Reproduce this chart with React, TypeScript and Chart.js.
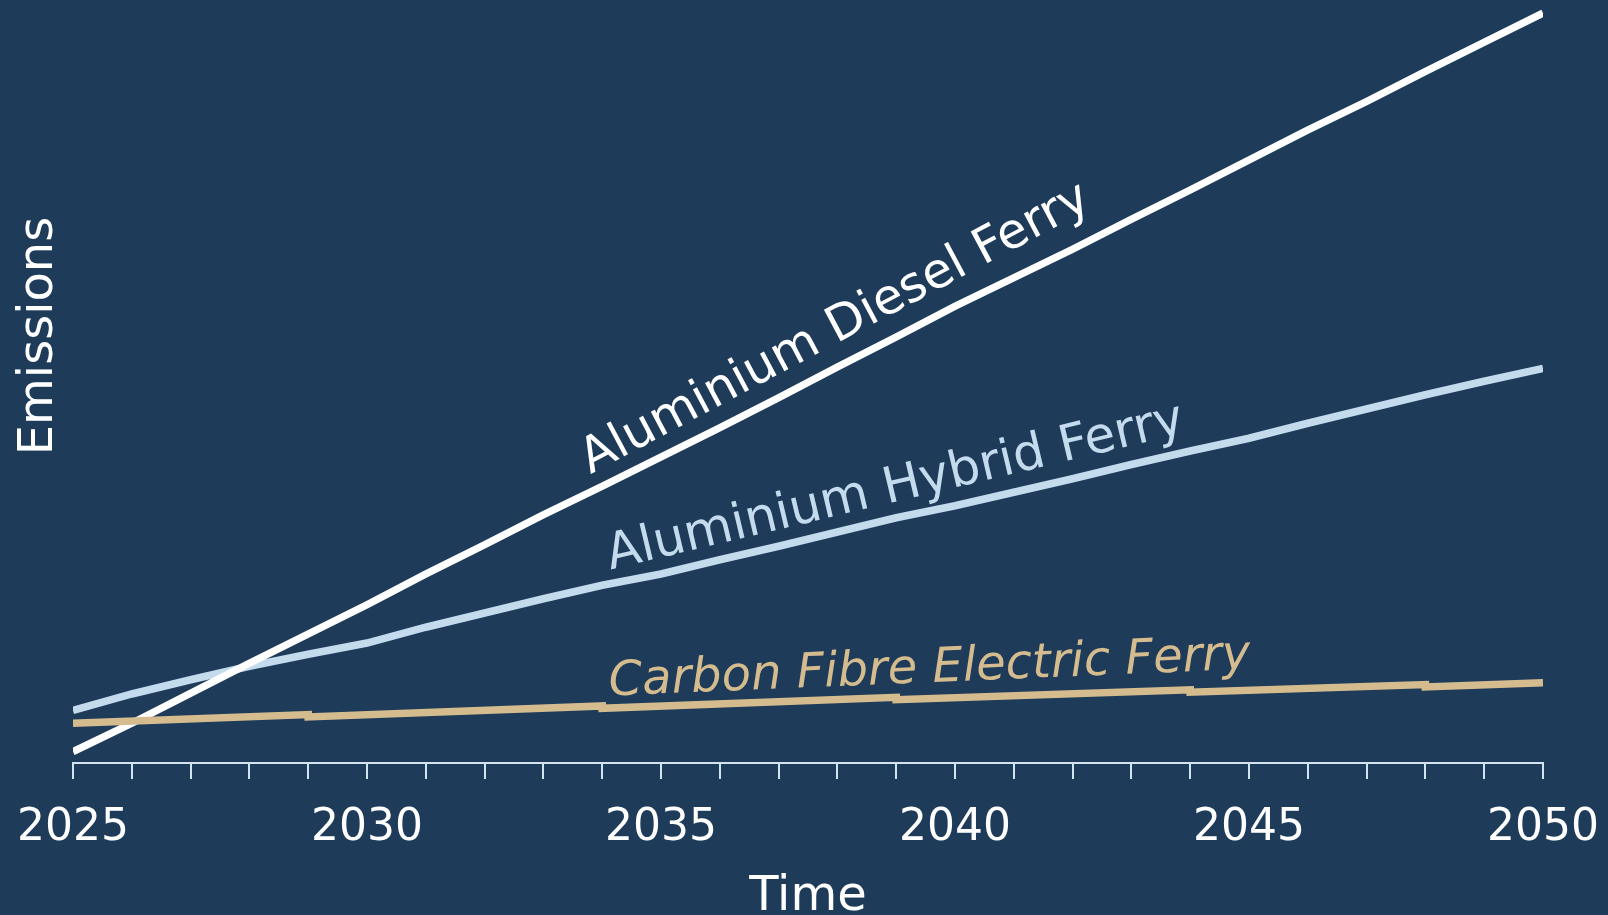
import React, { useEffect, useRef } from "react";
import { Chart, registerables } from "chart.js";

Chart.register(...registerables);

// ---- Data ----
const YEARS = [
  2025, 2026, 2027, 2028, 2029, 2030, 2031, 2032, 2033, 2034, 2035, 2036, 2037,
  2038, 2039, 2040, 2041, 2042, 2043, 2044, 2045, 2046, 2047, 2048, 2049, 2050,
];
const DIESEL = [
  1.5, 5.3, 9.3, 13.3, 17.2, 21.1, 25.2, 29.1, 33.1, 36.9, 40.8, 44.7, 48.7,
  52.8, 56.8, 60.9, 64.7, 68.5, 72.5, 76.4, 80.4, 84.4, 88.2, 92.2, 96.1, 100,
];
const HYBRID = [
  7.0, 9.2, 11.1, 12.9, 14.5, 16.0, 18.1, 20.0, 21.9, 23.7, 25.2, 27.1, 28.9,
  30.8, 32.7, 34.3, 36.1, 37.9, 39.8, 41.6, 43.3, 45.3, 47.2, 49.1, 50.9, 52.6,
];
const CARBON_YEARS = [2025, 2029, 2029, 2034, 2034, 2039, 2039, 2044, 2044, 2048, 2048, 2050];
const CARBON = [5.3, 6.45, 6.15, 7.6, 7.3, 8.75, 8.45, 9.75, 9.45, 10.45, 10.15, 10.7];

const SERIES_NAMES = ["Carbon Fibre Electric Ferry", "Aluminium Diesel Ferry", "Aluminium Hybrid Ferry"];
const LABELED_TICKS = [2025, 2030, 2035, 2040, 2045, 2050];
const X_TITLE = "Time";
const Y_TITLE = "Emissions";

// ---- Styles ----
const BG = "#1e3b59";
const WHITE = "#ffffff";
const BLUE = "#c4dbee";
const TAN = "#d4bc8f";
const AXIS = "#d3e3f0";
const FONT = "'DejaVu Sans', 'Open Sans', sans-serif";

// target plot area (pixels)
const AREA = { left: 73, right: 1543, top: 13, bottom: 763 };

// label anchors in data units + rotation (deg)
const LABELS = [
  { text: SERIES_NAMES[1], year: 2033.8, value: 38.5, angle: 28, color: WHITE, italic: false, size: 49 },
  { text: SERIES_NAMES[2], year: 2034.14, value: 25.8, angle: 13.4, color: BLUE, italic: false, size: 50 },
  { text: SERIES_NAMES[0], year: 2034.12, value: 9.0, angle: 2.4, color: TAN, italic: true, size: 48 },
];

const annotations = {
  id: "annotations",
  afterDatasetsDraw(chart: any) {
    const { ctx, scales } = chart;
    const xs = scales.x;
    const ys = scales.y;
    const left = xs.getPixelForValue(2025);
    const right = xs.getPixelForValue(2050);
    ctx.save();
    for (const l of LABELS) {
      const px = xs.getPixelForValue(l.year);
      const py = ys.getPixelForValue(l.value);
      ctx.save();
      ctx.translate(px, py);
      ctx.rotate((-l.angle * Math.PI) / 180);
      ctx.font = `${l.italic ? "italic " : ""}${l.size}px ${FONT}`;
      ctx.fillStyle = l.color;
      ctx.textAlign = "left";
      ctx.textBaseline = "alphabetic";
      ctx.fillText(l.text, 0, 0);
      ctx.restore();
    }
    // y title
    ctx.save();
    ctx.translate(left - 21, 336);
    ctx.rotate(-Math.PI / 2);
    ctx.font = `48px ${FONT}`;
    ctx.fillStyle = WHITE;
    ctx.textAlign = "center";
    ctx.textBaseline = "alphabetic";
    ctx.fillText(Y_TITLE, 0, 0);
    ctx.restore();
    // x title
    ctx.font = `48px ${FONT}`;
    ctx.fillStyle = WHITE;
    ctx.textAlign = "center";
    ctx.textBaseline = "alphabetic";
    ctx.fillText(X_TITLE, (left + right) / 2, 910);
    ctx.restore();
  },
};

export default function App() {
  const ref = useRef<HTMLCanvasElement | null>(null);
  useEffect(() => {
    if (!ref.current) return;
    const clip = { left: 0, right: 0, top: 10, bottom: 10 };
    const padding = { left: AREA.left, right: 1608 - AREA.right, top: AREA.top, bottom: 0 };
    const chart = new Chart(ref.current, {
      type: "line",
      data: {
        datasets: [
          {
            label: SERIES_NAMES[0],
            data: CARBON_YEARS.map((x, i) => ({ x, y: CARBON[i] })),
            borderColor: TAN,
            borderWidth: 7.5,
            pointRadius: 0,
            tension: 0,
            clip,
          },
          {
            label: SERIES_NAMES[1],
            data: YEARS.map((x, i) => ({ x, y: DIESEL[i] })),
            borderColor: WHITE,
            borderWidth: 7.5,
            pointRadius: 0,
            tension: 0,
            clip,
          },
          {
            label: SERIES_NAMES[2],
            data: YEARS.map((x, i) => ({ x, y: HYBRID[i] })),
            borderColor: BLUE,
            borderWidth: 7.5,
            pointRadius: 0,
            tension: 0,
            clip,
          },
        ],
      } as any,
      options: {
        animation: false,
        responsive: false,
        maintainAspectRatio: false,
        layout: { padding },
        plugins: { legend: { display: false }, tooltip: { enabled: false } },
        scales: {
          x: {
            type: "linear",
            min: 2025,
            max: 2050,
            afterFit: (scale: any) => {
              scale.height = 915 - AREA.bottom;
              scale.paddingLeft = 0;
              scale.paddingRight = 0;
            },
            ticks: {
              stepSize: 1,
              autoSkip: false,
              maxRotation: 0,
              minRotation: 0,
              padding: 23,
              color: WHITE,
              font: { family: FONT, size: 44 },
              callback: (v: any) => (LABELED_TICKS.includes(Number(v)) ? String(v) : ""),
            },
            grid: {
              display: true,
              drawOnChartArea: false,
              drawTicks: true,
              tickLength: 16,
              color: AXIS,
              lineWidth: 2,
            },
            border: { display: true, color: AXIS, width: 2 },
          },
          y: {
            display: false,
            min: 0,
            max: 100,
          },
        },
      } as any,
      plugins: [annotations],
    });
    return () => chart.destroy();
  }, []);
  return (
    <div
      style={{
        position: "fixed",
        left: 0,
        top: 0,
        width: 1608,
        height: 915,
        background: BG,
        overflow: "hidden",
      }}
    >
      <canvas ref={ref} width={1608} height={915} style={{ display: "block" }} />
    </div>
  );
}
